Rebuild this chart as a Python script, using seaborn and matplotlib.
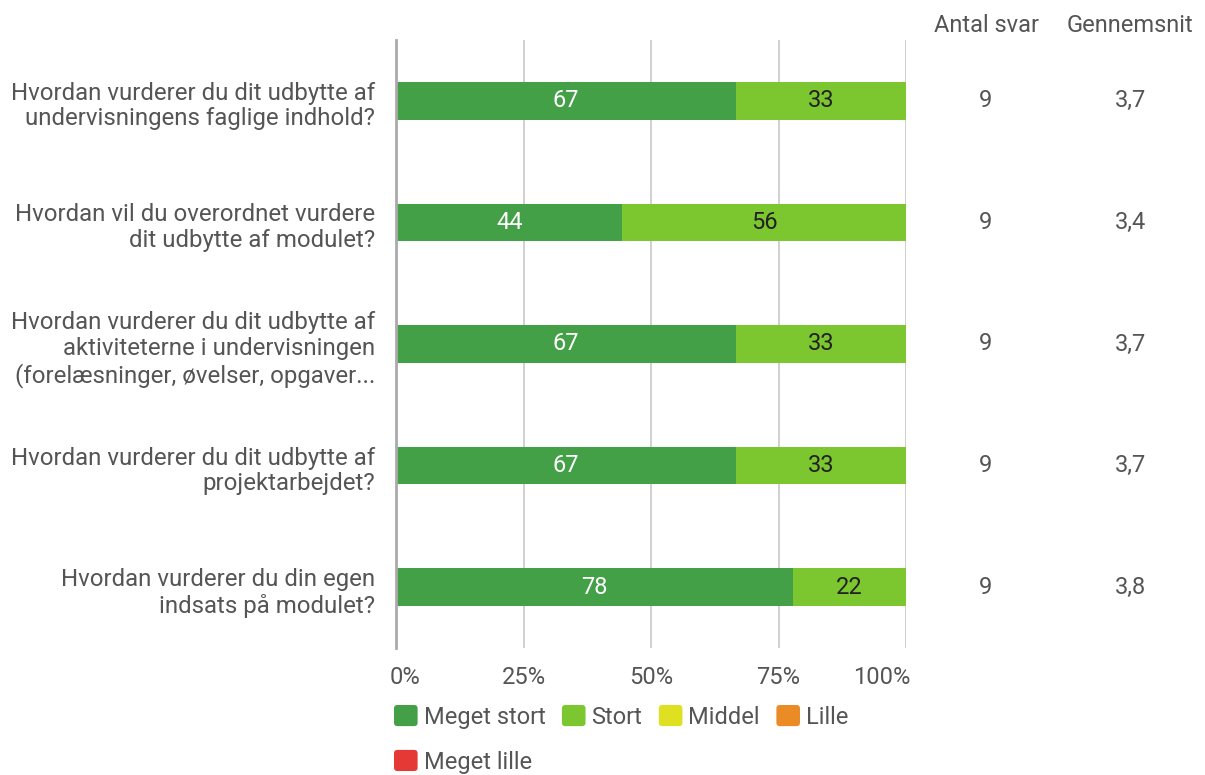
import matplotlib
matplotlib.use("Agg")
import matplotlib.pyplot as plt
import matplotlib.transforms as mtransforms
import seaborn as sns
import pandas as pd
import numpy as np
from matplotlib.patches import Patch, FancyBboxPatch
from matplotlib.legend_handler import HandlerPatch

questions = [
    "Hvordan vurderer du dit udbytte af\nundervisningens faglige indhold?",
    "Hvordan vil du overordnet vurdere\ndit udbytte af modulet?",
    "Hvordan vurderer du dit udbytte af\naktiviteterne i undervisningen\n(forelæsninger, øvelser, opgaver...",
    "Hvordan vurderer du dit udbytte af\nprojektarbejdet?",
    "Hvordan vurderer du din egen\nindsats på modulet?",
]
series_names = ["Meget stort", "Stort", "Middel", "Lille", "Meget lille"]
meget_stort = [66.7, 44.4, 66.7, 66.7, 77.8]
stort = [33.3, 55.6, 33.3, 33.3, 22.2]
middel = [0, 0, 0, 0, 0]
lille = [0, 0, 0, 0, 0]
meget_lille = [0, 0, 0, 0, 0]
antal_svar = ["9", "9", "9", "9", "9"]
gennemsnit = ["3,7", "3,4", "3,7", "3,7", "3,8"]
x_ticks = [0, 25, 50, 75, 100]
x_ticklabels = ["0%", "25%", "50%", "75%", "100%"]

colors = ["#43A047", "#7CC72F", "#E0E022", "#EB8B26", "#E53935"]
label_colors = ["white", "#222222", "#222222", "#222222", "white"]
text_color = "#555555"
FS = 17

sns.set_theme(style="white")
plt.rcParams["font.family"] = ["Roboto", "DejaVu Sans"]

fig = plt.figure(figsize=(12.05, 7.75), dpi=100)
ax = fig.add_axes([396 / 1205, 1 - 648 / 775, 510 / 1205, 608 / 775])

series = [meget_stort, stort, middel, lille, meget_lille]
cum = np.zeros(len(questions))
cums = []
for s in series:
    cum = cum + np.array(s)
    cums.append(cum.copy())

# draw from outermost cumulative to innermost, skipping empty layers
for i in range(len(series) - 1, -1, -1):
    if np.sum(series[i]) == 0:
        continue
    d = pd.DataFrame({"q": questions, "v": cums[i]})
    sns.barplot(data=d, y="q", x="v", orient="h", color=colors[i],
                saturation=1, width=0.31, linewidth=0, ax=ax, zorder=3)

# segment labels
for i, s in enumerate(series):
    start = cums[i] - np.array(s)
    for j, v in enumerate(s):
        if v > 0:
            ax.text(start[j] + v / 2, j, f"{v:.0f}", ha="center", va="center",
                    fontsize=FS, color=label_colors[i], zorder=5)

ax.set_xlim(0, 100)
ax.set_ylim(4.5, -0.5)
ax.set_xlabel("")
ax.set_ylabel("")
ax.set_xticks(x_ticks)
ax.set_xticklabels(x_ticklabels)
ax.tick_params(axis="x", length=0, pad=13, labelsize=FS, colors=text_color)
ax.tick_params(axis="y", length=0, pad=15, labelsize=17.3, colors=text_color)
for lab in ax.get_yticklabels():
    lab.set_multialignment("right")
    lab.set_linespacing(1.15)
    lab.set_transform(lab.get_transform() + mtransforms.ScaledTranslation(0, -1.5 / 100, fig.dpi_scale_trans))
xl = ax.get_xticklabels()
xl[0].set_ha("left")
xl[0].set_transform(xl[0].get_transform() + mtransforms.ScaledTranslation(-6 / 100, 0, fig.dpi_scale_trans))
xl[-1].set_ha("right")
xl[-1].set_transform(xl[-1].get_transform() + mtransforms.ScaledTranslation(4 / 100, 0, fig.dpi_scale_trans))

for x in x_ticks[1:]:
    ax.axvline(x, color="#c8c8c8", lw=1.2, zorder=1)
for sp in ["top", "right", "bottom"]:
    ax.spines[sp].set_visible(False)
ax.spines["left"].set_color("#aaaaaa")
ax.spines["left"].set_linewidth(2)
ax.spines["left"].set_zorder(6)

# right-side columns
trans_col = mtransforms.blended_transform_factory(fig.transFigure, ax.transData)
fig.text(986 / 1205, 1 - 26 / 775, "Antal svar", ha="center", va="center", fontsize=FS, color=text_color)
fig.text(1130 / 1205, 1 - 26 / 775, "Gennemsnit", ha="center", va="center", fontsize=FS, color=text_color)
for j in range(len(questions)):
    ax.text(986 / 1205, j, antal_svar[j], transform=trans_col, ha="center", va="center",
            fontsize=FS, color=text_color)
    ax.text(1130 / 1205, j, gennemsnit[j], transform=trans_col, ha="center", va="center",
            fontsize=FS, color=text_color)


class RoundedHandler(HandlerPatch):
    def create_artists(self, legend, orig_handle, xdescent, ydescent, width, height, fontsize, trans):
        p = FancyBboxPatch((-xdescent, -ydescent), width, height,
                           boxstyle="round,pad=0,rounding_size=2.5",
                           facecolor=orig_handle.get_facecolor(), edgecolor="none",
                           transform=trans)
        return [p]


# legend
order = [0, 4, 1, 2, 3]
handles = [Patch(facecolor=colors[k], edgecolor="none", label=series_names[k]) for k in order]
leg = fig.legend(handles=handles, ncol=4, loc="upper left",
                 bbox_to_anchor=(394 / 1205, 1 - 705 / 775), frameon=False,
                 fontsize=FS, handlelength=1.0, handleheight=1.0, handletextpad=0.25,
                 columnspacing=0.7, labelspacing=0.9, borderaxespad=0, borderpad=0,
                 handler_map={Patch: RoundedHandler()})
for t in leg.get_texts():
    t.set_color(text_color)

fig.savefig("out.png", dpi=100)
